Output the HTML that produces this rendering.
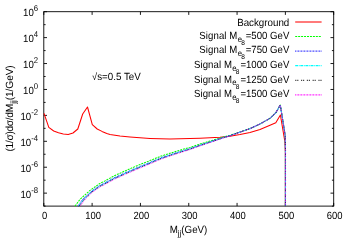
<!DOCTYPE html>
<html><head><meta charset="utf-8"><title>plot</title><style>html,body{margin:0;padding:0;background:#fff;}svg{display:block;}text{font-family:"Liberation Sans",sans-serif;fill:#000;text-rendering:geometricPrecision;}</style></head>
<body><div style="will-change:transform;width:350px;height:245px;overflow:hidden">
<svg width="350" height="245" viewBox="0 0 350 245">
<rect x="0" y="0" width="350" height="245" fill="#fff"/>
<g stroke="#000" stroke-width="0.9" fill="none">
<rect x="43.80" y="11.70" width="289.90" height="194.40"/>
<path d="M43.80 206.10h1.80 M333.70 206.10h-1.80 M43.80 193.14h3.20 M333.70 193.14h-3.20 M43.80 180.18h1.80 M333.70 180.18h-1.80 M43.80 167.22h3.20 M333.70 167.22h-3.20 M43.80 154.26h1.80 M333.70 154.26h-1.80 M43.80 141.30h3.20 M333.70 141.30h-3.20 M43.80 128.34h1.80 M333.70 128.34h-1.80 M43.80 115.38h3.20 M333.70 115.38h-3.20 M43.80 102.42h1.80 M333.70 102.42h-1.80 M43.80 89.46h3.20 M333.70 89.46h-3.20 M43.80 76.50h1.80 M333.70 76.50h-1.80 M43.80 63.54h3.20 M333.70 63.54h-3.20 M43.80 50.58h1.80 M333.70 50.58h-1.80 M43.80 37.62h3.20 M333.70 37.62h-3.20 M43.80 24.66h1.80 M333.70 24.66h-1.80 M43.80 11.70h3.20 M333.70 11.70h-3.20 M43.80 206.10v-3.2 M43.80 11.70v3.2 M92.12 206.10v-3.2 M92.12 11.70v3.2 M140.43 206.10v-3.2 M140.43 11.70v3.2 M188.75 206.10v-3.2 M188.75 11.70v3.2 M237.07 206.10v-3.2 M237.07 11.70v3.2 M285.38 206.10v-3.2 M285.38 11.70v3.2 M333.70 206.10v-3.2 M333.70 11.70v3.2" stroke-width="0.9"/>
</g>
<g fill="none" stroke-linejoin="round">
<path d="M44.00 113.40 L48.80 127.40 L53.70 131.00 L58.50 132.80 L63.30 134.00 L68.20 134.40 L73.00 133.00 L77.80 129.00 L82.70 114.00 L87.50 107.00 L92.30 124.60 L97.20 129.00 L102.00 131.40 L106.80 133.40 L110.00 134.40 L120.00 136.00 L130.00 137.00 L140.00 137.80 L150.00 138.40 L160.00 138.80 L170.00 139.00 L180.00 138.80 L190.00 138.60 L200.00 138.20 L210.00 137.80 L220.00 137.30 L230.00 136.20 L240.00 134.60 L250.00 132.60 L260.00 129.40 L270.00 125.20 L275.80 122.80 L280.40 115.00 L285.00 142.50 L285.40 153.00 L285.40 206.10" stroke="#ff0000" stroke-width="1.05"/>
<path d="M75.00 206.10 L80.00 199.40 L90.00 190.40 L100.00 183.40 L105.00 180.90 L110.00 178.10 L115.00 175.40 L120.00 173.30 L125.00 170.90 L130.00 168.80 L135.00 166.60 L140.00 164.50 L150.00 160.60 L160.00 156.50 L170.00 153.20 L180.00 150.20 L190.00 147.40 L200.00 144.10 L210.00 141.10 L220.00 138.00 L230.00 135.20 L240.00 132.00 L250.00 128.60 L260.00 124.00 L270.00 118.30 L275.80 112.80 L280.30 105.00 L285.20 135.50 L285.45 150.00 L285.45 206.10" stroke="#00ff00" stroke-width="1.05" stroke-dasharray="2 0.95"/>
<path d="M78.05 206.10 L83.05 199.40 L91.47 191.45 L100.00 185.50 L105.00 183.00 L110.00 180.20 L115.00 177.50 L120.00 175.40 L125.00 173.00 L130.00 170.90 L135.00 168.70 L140.00 166.60 L150.00 162.55 L160.00 158.31 L170.00 154.86 L180.00 151.71 L190.00 148.69 L200.00 145.17 L210.00 141.95 L220.00 138.63 L230.00 135.58 L240.00 132.13 L250.00 128.60 L260.00 124.00 L270.00 118.30 L275.80 112.80 L280.30 105.00 L285.20 135.50 L285.45 150.00 L285.45 206.10" stroke="#0000ff" stroke-width="1.2" stroke-dasharray="0.75 0.75"/>
<path d="M78.62 206.10 L83.62 199.40 L91.75 191.65 L100.00 185.90 L105.00 183.40 L110.00 180.60 L115.00 177.90 L120.00 175.80 L125.00 173.40 L130.00 171.30 L135.00 169.10 L140.00 167.00 L150.00 162.92 L160.00 158.65 L170.00 155.17 L180.00 152.00 L190.00 148.94 L200.00 145.38 L210.00 142.11 L220.00 138.75 L230.00 135.65 L240.00 132.15 L250.00 128.60 L260.00 124.00 L270.00 118.30 L275.80 112.80 L280.30 105.00 L285.20 135.50 L285.45 150.00 L285.45 206.10" stroke="#00ffff" stroke-width="0.9" stroke-dasharray="3 0.7 0.7 0.7"/>
<path d="M79.20 206.10 L84.20 199.40 L92.03 191.85 L100.00 186.30 L105.00 183.80 L110.00 181.00 L115.00 178.30 L120.00 176.20 L125.00 173.80 L130.00 171.70 L135.00 169.50 L140.00 167.40 L150.00 163.30 L160.00 158.99 L170.00 155.49 L180.00 152.29 L190.00 149.18 L200.00 145.58 L210.00 142.27 L220.00 138.87 L230.00 135.72 L240.00 132.17 L250.00 128.60 L260.00 124.00 L270.00 118.30 L275.80 112.80 L280.30 105.00 L285.20 135.50 L285.45 150.00 L285.45 206.10" stroke="#000000" stroke-width="0.8" stroke-dasharray="1.2 0.8 1.2 2.6"/>
<path d="M80.08 206.10 L85.08 199.40 L92.45 192.15 L100.00 186.90 L105.00 184.40 L110.00 181.60 L115.00 178.90 L120.00 176.80 L125.00 174.40 L130.00 172.30 L135.00 170.10 L140.00 168.00 L150.00 163.85 L160.00 159.51 L170.00 155.96 L180.00 152.72 L190.00 149.55 L200.00 145.88 L210.00 142.52 L220.00 139.05 L230.00 135.83 L240.00 132.21 L250.00 128.60 L260.00 124.00 L270.00 118.30 L275.80 112.80 L280.30 105.00 L285.20 135.50 L285.45 150.00 L285.45 206.10" stroke="#ff00ff" stroke-width="1.0" stroke-dasharray="0.7 0.8"/>
</g>
<text transform="translate(38.10 197.54) scale(0.93 1)" font-size="10.4" text-anchor="end">10<tspan font-size="8.32" dy="-4.7">-8</tspan></text>
<text transform="translate(38.10 171.62) scale(0.93 1)" font-size="10.4" text-anchor="end">10<tspan font-size="8.32" dy="-4.7">-6</tspan></text>
<text transform="translate(38.10 145.70) scale(0.93 1)" font-size="10.4" text-anchor="end">10<tspan font-size="8.32" dy="-4.7">-4</tspan></text>
<text transform="translate(38.10 119.78) scale(0.93 1)" font-size="10.4" text-anchor="end">10<tspan font-size="8.32" dy="-4.7">-2</tspan></text>
<text transform="translate(38.10 93.86) scale(0.93 1)" font-size="10.4" text-anchor="end">10<tspan font-size="8.32" dy="-4.7">0</tspan></text>
<text transform="translate(38.10 67.94) scale(0.93 1)" font-size="10.4" text-anchor="end">10<tspan font-size="8.32" dy="-4.7">2</tspan></text>
<text transform="translate(38.10 42.02) scale(0.93 1)" font-size="10.4" text-anchor="end">10<tspan font-size="8.32" dy="-4.7">4</tspan></text>
<text transform="translate(38.10 16.10) scale(0.93 1)" font-size="10.4" text-anchor="end">10<tspan font-size="8.32" dy="-4.7">6</tspan></text>
<text transform="translate(44.70 219.40) scale(0.91 1)" font-size="10.4" text-anchor="middle">0</text>
<text transform="translate(93.02 219.40) scale(0.91 1)" font-size="10.4" text-anchor="middle">100</text>
<text transform="translate(141.33 219.40) scale(0.91 1)" font-size="10.4" text-anchor="middle">200</text>
<text transform="translate(189.65 219.40) scale(0.91 1)" font-size="10.4" text-anchor="middle">300</text>
<text transform="translate(237.97 219.40) scale(0.91 1)" font-size="10.4" text-anchor="middle">400</text>
<text transform="translate(286.28 219.40) scale(0.91 1)" font-size="10.4" text-anchor="middle">500</text>
<text transform="translate(334.60 219.40) scale(0.91 1)" font-size="10.4" text-anchor="middle">600</text>
<text transform="translate(169.70 232.60) scale(0.94 1)" font-size="10.4" text-anchor="start">M<tspan font-size="8.32" dy="3">jj</tspan><tspan dy="-3">(GeV)</tspan></text>
<text transform="translate(13.30 151.50) rotate(-90) scale(0.98 1)" font-size="10.4" text-anchor="start"><tspan letter-spacing="-0.32">(1/σ)dσ/d</tspan>M<tspan font-size="8.32" dy="3">jj</tspan><tspan dy="-3" letter-spacing="-0.12">(1/GeV)</tspan></text>
<text transform="translate(92.10 79.80) scale(0.94 1)" font-size="10.4" text-anchor="start"><tspan font-size="9.88">√</tspan>s=0.5 TeV</text>
<path d="M295.2 22.00H321.6" stroke="#ff0000" stroke-width="1.05" fill="none"/>
<text transform="translate(289.30 25.60) scale(0.94 1)" font-size="10.4" text-anchor="end">Background</text>
<path d="M295.2 36.45H321.6" stroke="#00ff00" stroke-width="1.05" fill="none" stroke-dasharray="2 0.95"/>
<text transform="translate(289.30 38.85) scale(0.925 1)" font-size="10.4" text-anchor="end"><tspan letter-spacing="0.08">Signal </tspan>M<tspan font-size="8.32" dy="2.7" dx="0.4">e</tspan><tspan font-size="7.07" dy="3.3" dx="-0.8">8</tspan><tspan font-size="10.4" dy="-6.0" dx="1.0">=500 GeV</tspan></text>
<path d="M295.2 51.05H321.6" stroke="#0000ff" stroke-width="1.15" fill="none" stroke-dasharray="0.7 0.8"/>
<text transform="translate(289.30 53.45) scale(0.925 1)" font-size="10.4" text-anchor="end"><tspan letter-spacing="0.08">Signal </tspan>M<tspan font-size="8.32" dy="2.7" dx="0.4">e</tspan><tspan font-size="7.07" dy="3.3" dx="-0.8">8</tspan><tspan font-size="10.4" dy="-6.0" dx="1.0">=750 GeV</tspan></text>
<path d="M295.2 65.60H321.6" stroke="#00ffff" stroke-width="1.1" fill="none" stroke-dasharray="3 0.7 0.7 0.7"/>
<text transform="translate(289.30 68.00) scale(0.925 1)" font-size="10.4" text-anchor="end"><tspan letter-spacing="0.08">Signal </tspan>M<tspan font-size="8.32" dy="2.7" dx="0.4">e</tspan><tspan font-size="7.07" dy="3.3" dx="-0.8">8</tspan><tspan font-size="10.4" dy="-6.0" dx="1.0">=1000 GeV</tspan></text>
<path d="M295.2 80.30H321.6" stroke="#000000" stroke-width="0.9" fill="none" stroke-dasharray="1.2 0.8 1.2 2.6"/>
<text transform="translate(289.30 82.70) scale(0.925 1)" font-size="10.4" text-anchor="end"><tspan letter-spacing="0.08">Signal </tspan>M<tspan font-size="8.32" dy="2.7" dx="0.4">e</tspan><tspan font-size="7.07" dy="3.3" dx="-0.8">8</tspan><tspan font-size="10.4" dy="-6.0" dx="1.0">=1250 GeV</tspan></text>
<path d="M295.2 94.85H321.6" stroke="#ff00ff" stroke-width="1.2" fill="none" stroke-dasharray="0.8 0.7"/>
<text transform="translate(289.30 97.25) scale(0.925 1)" font-size="10.4" text-anchor="end"><tspan letter-spacing="0.08">Signal </tspan>M<tspan font-size="8.32" dy="2.7" dx="0.4">e</tspan><tspan font-size="7.07" dy="3.3" dx="-0.8">8</tspan><tspan font-size="10.4" dy="-6.0" dx="1.0">=1500 GeV</tspan></text>
</svg></div>
</body></html>
